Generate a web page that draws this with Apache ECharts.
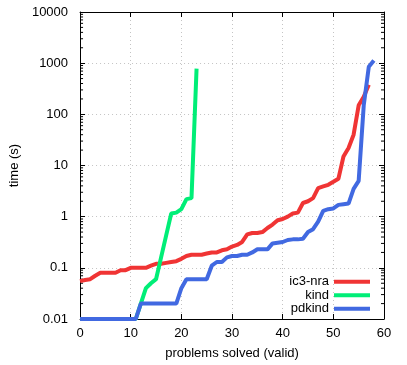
<!DOCTYPE html>
<html>
<head>
<meta charset="utf-8">
<script src="https://cdn.jsdelivr.net/npm/echarts@6/dist/echarts.min.js"></script>
<style>
html,body{margin:0;padding:0;background:#fff;}
#chart{width:407px;height:365px;}
</style>
</head>
<body>
<div id="chart"></div>
<script>
const seriesNames = ['ic3-nra', 'kind', 'pdkind'];
const ic3nra = [0.055, 0.058, 0.06, 0.07, 0.08, 0.08, 0.08, 0.08, 0.09, 0.09,
  0.1, 0.1, 0.1, 0.1, 0.11, 0.12, 0.12, 0.125, 0.13, 0.135,
  0.15, 0.17, 0.18, 0.18, 0.18, 0.19, 0.2, 0.2, 0.22, 0.23,
  0.26, 0.28, 0.32, 0.45, 0.48, 0.48, 0.5, 0.6, 0.7, 0.85,
  0.9, 1.0, 1.15, 1.2, 1.85, 2.0, 2.3, 3.6, 3.9, 4.2,
  4.8, 5.5, 15, 22, 40, 150, 220, 380];
const kind = [0.01, 0.01, 0.01, 0.01, 0.01, 0.01, 0.01, 0.01, 0.01, 0.01,
  0.01, 0.01, 0.02, 0.04, 0.05, 0.06, 0.16, 0.43, 1.15, 1.2,
  1.4, 2.2, 2.3, 780];
const pdkind = [0.01, 0.01, 0.01, 0.01, 0.01, 0.01, 0.01, 0.01, 0.01, 0.01,
  0.01, 0.01, 0.02, 0.02, 0.02, 0.02, 0.02, 0.02, 0.02, 0.02,
  0.04, 0.06, 0.06, 0.06, 0.06, 0.06, 0.11, 0.13, 0.13, 0.16,
  0.17, 0.17, 0.18, 0.18, 0.2, 0.23, 0.23, 0.23, 0.3, 0.31,
  0.32, 0.35, 0.36, 0.36, 0.37, 0.5, 0.57, 0.8, 1.3, 1.4,
  1.45, 1.7, 1.75, 1.8, 3.5, 5, 150, 850, 1130];
const colors = ['#f03434', '#00ee77', '#4169e1'];
const xMin = 0, xMax = 60, xStep = 10;
const yMin = 0.01, yMax = 10000;

const font = 'Liberation Sans, Arial, Helvetica, sans-serif';
const toPairs = arr => arr.map((v, i) => [i, v]);

// minor log ticks positions (2..9 per decade)
const minorTicks = [];
for (let d = -2; d < 4; d++) {
  for (let m = 2; m <= 9; m++) minorTicks.push([0, Number((m * Math.pow(10, d)).toPrecision(6))]);
}

const fmt = v => String(Number(Number(v).toPrecision(6)));

const chart = echarts.init(document.getElementById('chart'), null, {renderer: 'canvas'});
const commonAxisLine = {show: true, onZero: false, lineStyle: {color: '#000', width: 1}};
const gridLine = {show: true, lineStyle: {color: '#c4c4c4', type: [1, 3], width: 1}};
const option = {
  animation: false,
  textStyle: {fontFamily: font},
  grid: {left: 77, right: 23, top: 12, bottom: 46, show: false},
  legend: {
    orient: 'vertical', right: 37, top: 275, padding: 0,
    align: 'right', icon: 'rect', itemWidth: 36, itemHeight: 4, itemGap: 0,
    textStyle: {fontFamily: font, fontSize: 13, color: '#000', lineHeight: 13.5},
    data: seriesNames
  },
  xAxis: [{
    type: 'value', min: xMin, max: xMax, interval: xStep,
    name: 'problems solved (valid)', nameLocation: 'middle', nameGap: 28,
    nameTextStyle: {fontFamily: font, fontSize: 13, color: '#000'},
    axisLine: commonAxisLine,
    axisTick: {show: true, inside: true, length: 5, lineStyle: {color: '#000'}},
    axisLabel: {fontFamily: font, fontSize: 13, color: '#000', margin: 8},
    splitLine: gridLine
  }, {
    type: 'value', min: xMin, max: xMax, interval: xStep, position: 'top',
    axisLine: commonAxisLine,
    axisTick: {show: true, inside: true, length: 5, lineStyle: {color: '#000'}},
    axisLabel: {show: false}, splitLine: {show: false}
  }],
  yAxis: [{
    type: 'log', logBase: 10, min: yMin, max: yMax,
    name: 'time (s)', nameLocation: 'middle', nameGap: 49, nameRotate: 90,
    nameTextStyle: {fontFamily: font, fontSize: 13, color: '#000'},
    axisLine: commonAxisLine,
    axisTick: {show: true, inside: true, length: 5, lineStyle: {color: '#000'}},
    axisLabel: {fontFamily: font, fontSize: 13, color: '#000', margin: 12, formatter: fmt},
    splitLine: gridLine
  }, {
    type: 'log', logBase: 10, min: yMin, max: yMax, position: 'right',
    axisLine: commonAxisLine,
    axisTick: {show: true, inside: true, length: 5, lineStyle: {color: '#000'}},
    axisLabel: {show: false}, splitLine: {show: false}
  }],
  series: [
    {
      type: 'custom', silent: true, xAxisIndex: 0, yAxisIndex: 0,
      data: minorTicks, clip: false, z: 1,
      renderItem: function (params, api) {
        const pL = api.coord([xMin, api.value(1)]);
        const pR = api.coord([xMax, api.value(1)]);
        return {
          type: 'group',
          children: [
            {type: 'line', shape: {x1: pL[0], y1: pL[1], x2: pL[0] + 3, y2: pL[1]}, style: {stroke: '#000', lineWidth: 1}},
            {type: 'line', shape: {x1: pR[0], y1: pR[1], x2: pR[0] - 3, y2: pR[1]}, style: {stroke: '#000', lineWidth: 1}}
          ]
        };
      }
    },
    {name: seriesNames[0], type: 'line', data: toPairs(ic3nra), symbol: 'none', clip: false,
      itemStyle: {color: colors[0]}, lineStyle: {color: colors[0], width: 4}, z: 3},
    {name: seriesNames[1], type: 'line', data: toPairs(kind), symbol: 'none', clip: false,
      itemStyle: {color: colors[1]}, lineStyle: {color: colors[1], width: 4}, z: 4},
    {name: seriesNames[2], type: 'line', data: toPairs(pdkind), symbol: 'none', clip: false,
      itemStyle: {color: colors[2]}, lineStyle: {color: colors[2], width: 4}, z: 5}
  ]
};
chart.setOption(option);
</script>
</body>
</html>
